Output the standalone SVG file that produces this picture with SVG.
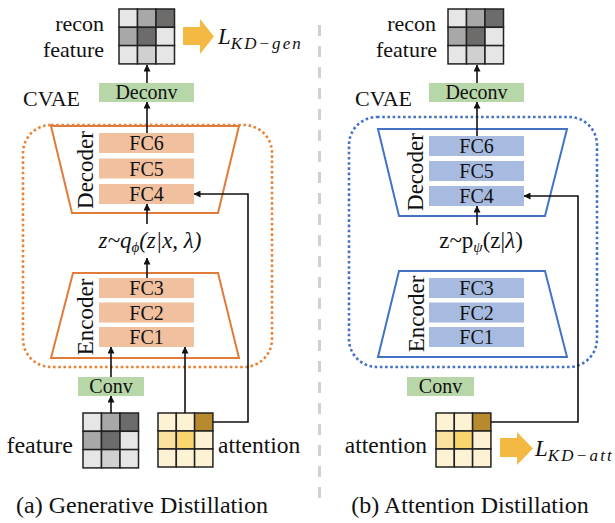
<svg xmlns="http://www.w3.org/2000/svg" width="615" height="523" viewBox="0 0 615 523">
<style>
.t{font-family:'Liberation Serif','DejaVu Serif',serif;fill:#111}
.m{font-family:'Liberation Serif','DejaVu Serif',serif;fill:#111;font-style:italic}
.fo{fill:#F0C09F}
.fb{fill:#A7BBE1}
.gr{fill:#B8D7A8}
.ln{stroke:#111;stroke-width:1.6;fill:none}
.cell{stroke:#222;stroke-width:1.5}
.c1{fill:#E6E6E6}.c2{fill:#A8A8A8}.c3{fill:#6E6B6B}.c4{fill:#D0D0D0}
.a1{fill:#FDF2D3}.a2{fill:#FAE29E}.a3{fill:#F9D56E}.a4{fill:#B78A2E}
.big{fill:#F4B942}
</style>
<defs>
<marker id="ah" markerWidth="7" markerHeight="7" refX="6.5" refY="3.5" orient="auto" markerUnits="userSpaceOnUse">
<path d="M0,0 L7,3.5 L0,7 z" fill="#111"/>
</marker>
<g id="fgrid">
<rect class="cell c1" x="0" y="0" width="18.5" height="18.3"/>
<rect class="cell c2" x="18.5" y="0" width="18.5" height="18.3"/>
<rect class="cell c3" x="37" y="0" width="18.5" height="18.3"/>
<rect class="cell c2" x="0" y="18.3" width="18.5" height="18.3"/>
<rect class="cell c3" x="18.5" y="18.3" width="18.5" height="18.3"/>
<rect class="cell c1" x="37" y="18.3" width="18.5" height="18.3"/>
<rect class="cell c1" x="0" y="36.6" width="18.5" height="18.3"/>
<rect class="cell c4" x="18.5" y="36.6" width="18.5" height="18.3"/>
<rect class="cell c1" x="37" y="36.6" width="18.5" height="18.3"/>
</g>
<g id="agrid">
<rect class="cell a1" x="0" y="0" width="18.3" height="18"/>
<rect class="cell a1" x="18.3" y="0" width="18.3" height="18"/>
<rect class="cell a4" x="36.6" y="0" width="18.3" height="18"/>
<rect class="cell a2" x="0" y="18" width="18.3" height="18"/>
<rect class="cell a3" x="18.3" y="18" width="18.3" height="18"/>
<rect class="cell a1" x="36.6" y="18" width="18.3" height="18"/>
<rect class="cell a1" x="0" y="36" width="18.3" height="18"/>
<rect class="cell a1" x="18.3" y="36" width="18.3" height="18"/>
<rect class="cell a1" x="36.6" y="36" width="18.3" height="18"/>
</g>
</defs>

<!-- divider -->
<line x1="319.5" y1="25" x2="319.5" y2="500" stroke="#D0D0D0" stroke-width="3" stroke-dasharray="11 10"/>

<!-- ===== Left panel ===== -->
<g id="a-recon">
<use href="#fgrid" x="119" y="9"/>
<text class="t" x="104" y="31" font-size="22" text-anchor="end">recon</text>
<text class="t" x="104" y="57" font-size="22" text-anchor="end">feature</text>
</g>
<g id="a-lkd">
<polygon class="big" points="183,27 200,27 200,19 214,36.5 200,54 200,45 183,45"/>
<text class="m" x="218" y="44" font-size="23">L<tspan font-size="17" dy="5" textLength="70" lengthAdjust="spacing">KD−gen</tspan></text>
</g>
<g id="a-deconv">
<rect class="gr" x="99" y="83" width="95" height="19"/>
<text class="t" x="146.5" y="99" font-size="20" text-anchor="middle">Deconv</text>
</g>
<text class="t" x="23" y="106" font-size="22">CVAE</text>
<g id="a-cvae">
<rect x="23" y="125" width="249" height="242" rx="28" fill="none" stroke="#E8833A" stroke-width="2.6" stroke-dasharray="2.6 2.6"/>
</g>
<g id="a-decoder">
<polygon points="51,126 239,126 218,213 72,213" fill="none" stroke="#E07B39" stroke-width="2"/>
<text class="t" transform="translate(93,170) rotate(-90)" font-size="23" text-anchor="middle">Decoder</text>
<rect class="fo" x="99" y="133" width="95" height="20"/>
<text class="t" x="146.5" y="150" font-size="20" text-anchor="middle">FC6</text>
<rect class="fo" x="99" y="158.5" width="95" height="20"/>
<text class="t" x="146.5" y="175.5" font-size="20" text-anchor="middle">FC5</text>
<rect class="fo" x="99" y="184" width="95" height="20"/>
<text class="t" x="146.5" y="201" font-size="20" text-anchor="middle">FC4</text>
</g>
<g id="a-z">
<text class="m" x="150" y="248" font-size="23" text-anchor="middle">z~q<tspan font-size="15" dy="4">ϕ</tspan><tspan dy="-4">(z|x, λ)</tspan></text>
</g>
<g id="a-encoder">
<polygon points="73,273 218,273 239,358 51,358" fill="none" stroke="#E07B39" stroke-width="2"/>
<text class="t" transform="translate(93,317) rotate(-90)" font-size="23" text-anchor="middle">Encoder</text>
<rect class="fo" x="99" y="278" width="95" height="20"/>
<text class="t" x="146.5" y="295" font-size="20" text-anchor="middle">FC3</text>
<rect class="fo" x="99" y="302.5" width="95" height="20"/>
<text class="t" x="146.5" y="319.5" font-size="20" text-anchor="middle">FC2</text>
<rect class="fo" x="99" y="327" width="95" height="20"/>
<text class="t" x="146.5" y="344" font-size="20" text-anchor="middle">FC1</text>
</g>
<g id="a-conv">
<rect class="gr" x="78" y="377" width="66" height="19"/>
<text class="t" x="111" y="393" font-size="20" text-anchor="middle">Conv</text>
</g>
<g id="a-feature">
<use href="#fgrid" x="83" y="413"/>
<text class="t" x="73" y="453" font-size="24" text-anchor="end">feature</text>
</g>
<g id="a-attention">
<use href="#agrid" x="158" y="413"/>
<text class="t" x="218" y="453" font-size="23.5">attention</text>
</g>
<text class="t" x="142" y="513" font-size="24" text-anchor="middle">(a) Generative Distillation</text>

<!-- ===== Right panel ===== -->
<g id="b-recon">
<use href="#fgrid" x="448" y="9"/>
<text class="t" x="436" y="31" font-size="22" text-anchor="end">recon</text>
<text class="t" x="437" y="57" font-size="22" text-anchor="end">feature</text>
</g>
<g id="b-deconv">
<rect class="gr" x="429" y="83" width="95" height="19"/>
<text class="t" x="476.5" y="99" font-size="20" text-anchor="middle">Deconv</text>
</g>
<text class="t" x="355" y="106" font-size="22">CVAE</text>
<g id="b-cvae">
<rect x="349" y="117" width="248" height="250" rx="28" fill="none" stroke="#4472C4" stroke-width="2.6" stroke-dasharray="2.6 2.6"/>
</g>
<g id="b-decoder">
<polygon points="378,129 567,129 545,216 399,216" fill="none" stroke="#4472C4" stroke-width="2"/>
<text class="t" transform="translate(423,172) rotate(-90)" font-size="23" text-anchor="middle">Decoder</text>
<rect class="fb" x="429" y="136" width="95" height="20"/>
<text class="t" x="476.5" y="153" font-size="20" text-anchor="middle">FC6</text>
<rect class="fb" x="429" y="161" width="95" height="20"/>
<text class="t" x="476.5" y="178" font-size="20" text-anchor="middle">FC5</text>
<rect class="fb" x="429" y="186" width="95" height="20"/>
<text class="t" x="476.5" y="203" font-size="20" text-anchor="middle">FC4</text>
</g>
<g id="b-z">
<text class="t" x="481" y="248" font-size="23" text-anchor="middle">z~p<tspan class="m" font-size="15" dy="4">ψ</tspan><tspan dy="-4">(z|</tspan><tspan class="m">λ</tspan>)</text>
</g>
<g id="b-encoder">
<polygon points="399,271 545,271 567,357 378,357" fill="none" stroke="#4472C4" stroke-width="2"/>
<text class="t" transform="translate(424,314) rotate(-90)" font-size="23" text-anchor="middle">Encoder</text>
<rect class="fb" x="429" y="278" width="95" height="20"/>
<text class="t" x="476.5" y="295" font-size="20" text-anchor="middle">FC3</text>
<rect class="fb" x="429" y="302.5" width="95" height="20"/>
<text class="t" x="476.5" y="319.5" font-size="20" text-anchor="middle">FC2</text>
<rect class="fb" x="429" y="327" width="95" height="20"/>
<text class="t" x="476.5" y="344" font-size="20" text-anchor="middle">FC1</text>
</g>
<g id="b-conv">
<rect class="gr" x="407" y="377" width="67" height="19"/>
<text class="t" x="440.5" y="393" font-size="20" text-anchor="middle">Conv</text>
</g>
<g id="b-attention">
<use href="#agrid" x="436" y="413"/>
<text class="t" x="427" y="453" font-size="23.5" text-anchor="end">attention</text>
</g>
<g id="b-lkd">
<polygon class="big" points="500,438 517,438 517,432 533,448.5 517,465 517,457 500,457"/>
<text class="m" x="535" y="456" font-size="23">L<tspan font-size="17" dy="5" textLength="64" lengthAdjust="spacing">KD−att</tspan></text>
</g>
<text class="t" x="470" y="513" font-size="24" text-anchor="middle">(b) Attention Distillation</text>

<!-- ===== connectors ===== -->
<g id="connectors">
<line class="ln" x1="147" y1="83" x2="147" y2="65" marker-end="url(#ah)"/>
<line class="ln" x1="147" y1="133" x2="147" y2="102" marker-end="url(#ah)"/>
<line class="ln" x1="147" y1="224" x2="147" y2="204" marker-end="url(#ah)"/>
<line class="ln" x1="147" y1="278" x2="147" y2="258" marker-end="url(#ah)"/>
<line class="ln" x1="111" y1="377" x2="111" y2="347" marker-end="url(#ah)"/>
<line class="ln" x1="111" y1="413" x2="111" y2="396" marker-end="url(#ah)"/>
<line class="ln" x1="185" y1="413" x2="185" y2="347" marker-end="url(#ah)"/>
<polyline class="ln" points="213,422 248,422 248,194 194,194" marker-end="url(#ah)"/>
<line class="ln" x1="477" y1="83" x2="477" y2="65" marker-end="url(#ah)"/>
<line class="ln" x1="477" y1="136" x2="477" y2="102" marker-end="url(#ah)"/>
<line class="ln" x1="477" y1="225" x2="477" y2="206" marker-end="url(#ah)"/>
<polyline class="ln" points="491,422 578,422 578,196 524,196" marker-end="url(#ah)"/>
</g>
</svg>
